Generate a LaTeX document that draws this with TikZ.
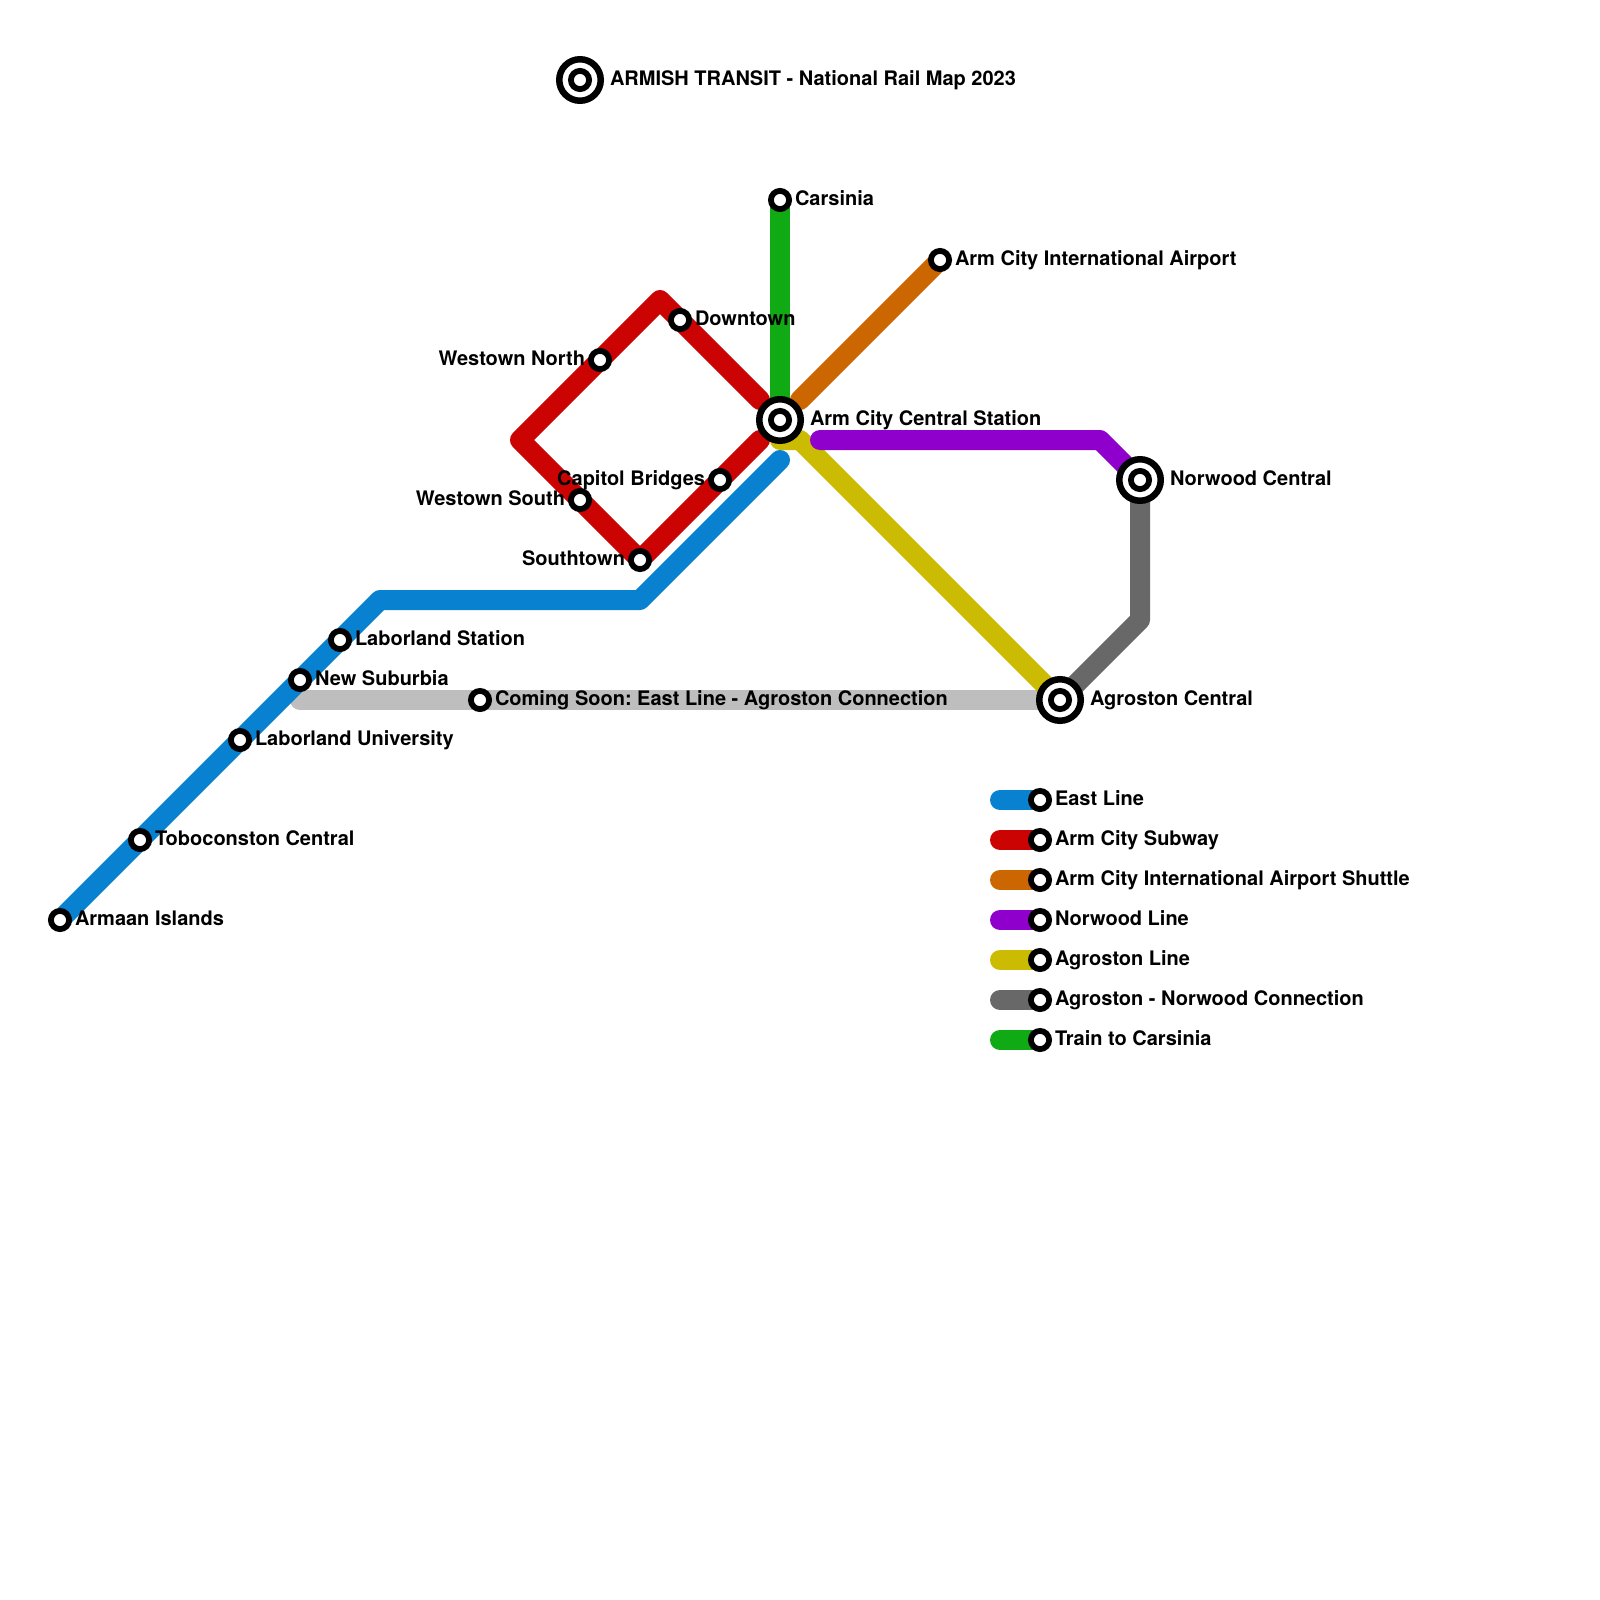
\documentclass[tikz,border=0pt]{standalone}
\usepackage{fontspec}
\setmainfont{TeX Gyre Heros}
\usetikzlibrary{backgrounds}
\definecolor{eastc}{HTML}{0781D0}
\definecolor{redc}{HTML}{CC0303}
\definecolor{orangec}{HTML}{CC6600}
\definecolor{purplec}{HTML}{8F00CC}
\definecolor{yellowc}{HTML}{CCBB03}
\definecolor{grayc}{HTML}{686868}
\definecolor{greenc}{HTML}{0FAA14}
\definecolor{soonc}{HTML}{BEBEBE}
\tikzset{
  x=1pt,y=-1pt,
  stn/.style={circle,draw=black,fill=white,line width=5.8pt,inner sep=0pt,outer sep=0pt,minimum size=18.2pt},
  hub/.style={circle,draw=black,fill=white,line width=6.5pt,inner sep=0pt,outer sep=0pt,minimum size=41.5pt},
  rail/.style={line width=20pt,line cap=round,line join=round},
  lbl/.style={font=\fontsize{20}{22}\selectfont\bfseries,text=black,inner sep=0pt,outer sep=0pt,anchor=base west},
  lbr/.style={lbl,anchor=base east},
}
\begin{document}
\frenchspacing
\begin{tikzpicture}
\useasboundingbox (0,0) rectangle (1600,1600);
% bends and free ends
\coordinate (bA) at (380,600);
\coordinate (bB) at (640,600);
\coordinate (bE) at (780,460);
\coordinate (rS) at (760,440);
\coordinate (rL) at (520,440);
\coordinate (rT) at (660,300);
\coordinate (rE) at (760,400);
\coordinate (oE) at (800,400);
\coordinate (pS) at (820,440);
\coordinate (pB) at (1100,440);
\coordinate (yS) at (780,440);
\coordinate (yB) at (800,440);
\coordinate (gB) at (1140,620);
\coordinate (sS) at (300,700);
% stations
\node[hub] (logo) at (580,80) {};
\node[stn] (logoi) at (580,80) {};
\node[stn] (armaan) at (60,920) {};
\node[stn] (tobo) at (140,840) {};
\node[stn] (launi) at (240,740) {};
\node[stn] (newsub) at (300,680) {};
\node[stn] (lasta) at (340,640) {};
\node[stn] (soon) at (480,700) {};
\node[stn] (south) at (640,560) {};
\node[stn] (wsouth) at (580,500) {};
\node[stn] (capitol) at (720,480) {};
\node[stn] (wnorth) at (600,360) {};
\node[stn] (down) at (680,320) {};
\node[stn] (cars) at (780,200) {};
\node[stn] (airport) at (940,260) {};
\node[hub] (central) at (780,420) {};
\node[stn] (centrali) at (780,420) {};
\node[hub] (norwood) at (1140,480) {};
\node[stn] (norwoodi) at (1140,480) {};
\node[hub] (agro) at (1060,700) {};
\node[stn] (agroi) at (1060,700) {};
% legend stations
\coordinate (l1s) at (1000,800);
\coordinate (l2s) at (1000,840);
\coordinate (l3s) at (1000,880);
\coordinate (l4s) at (1000,920);
\coordinate (l5s) at (1000,960);
\coordinate (l6s) at (1000,1000);
\coordinate (l7s) at (1000,1040);
\node[stn] (l1) at (1040,800) {};
\node[stn] (l2) at (1040,840) {};
\node[stn] (l3) at (1040,880) {};
\node[stn] (l4) at (1040,920) {};
\node[stn] (l5) at (1040,960) {};
\node[stn] (l6) at (1040,1000) {};
\node[stn] (l7) at (1040,1040) {};
\begin{pgfonlayer}{background}
\fill[white] (0,0) rectangle (1600,1600);
\draw[rail,soonc] (sS) -- (agro.center);
\draw[rail,greenc] (cars.center) -- (central.center);
\draw[rail,orangec] (airport.center) -- (oE);
\draw[rail,redc] (rS) -- (south.center) -- (rL) -- (rT) -- (rE);
\draw[rail,eastc] (armaan.center) -- (bA) -- (bB) -- (bE);
\draw[rail,yellowc] (yS) -- (yB) -- (agro.center);
\draw[rail,grayc] (agro.center) -- (gB) -- (norwood.center);
\draw[rail,purplec] (pS) -- (pB) -- (norwood.center);
\draw[rail,eastc] (l1s) -- (l1.center);
\draw[rail,redc] (l2s) -- (l2.center);
\draw[rail,orangec] (l3s) -- (l3.center);
\draw[rail,purplec] (l4s) -- (l4.center);
\draw[rail,yellowc] (l5s) -- (l5.center);
\draw[rail,grayc] (l6s) -- (l6.center);
\draw[rail,greenc] (l7s) -- (l7.center);
\end{pgfonlayer}
% labels
\node[lbl] (tlogo) at (610,85.8) {ARMISH TRANSIT - National Rail Map 2023};
\node[lbl] (tarmaan) at (75,925.8) {Armaan Islands};
\node[lbl] (ttobo) at (155,845.8) {Toboconston Central};
\node[lbl] (tlauni) at (255,745.8) {Laborland University};
\node[lbl] (tnewsub) at (315,685.8) {New Suburbia};
\node[lbl] (tlasta) at (355,645.8) {Laborland Station};
\node[lbl] (tsoon) at (495,705.8) {Coming Soon: East Line - Agroston Connection};
\node[lbr] (tsouth) at (625,565.8) {Southtown};
\node[lbr] (twsouth) at (565,505.8) {Westown South};
\node[lbr] (tcapitol) at (705,485.8) {Capitol Bridges};
\node[lbr] (twnorth) at (585,365.8) {Westown North};
\node[lbl] (tdown) at (695,325.8) {Downtown};
\node[lbl] (tcars) at (795,205.8) {Carsinia};
\node[lbl] (tairport) at (955,265.8) {Arm City International Airport};
\node[lbl] (tcentral) at (810,425.8) {Arm City Central Station};
\node[lbl] (tnorwood) at (1170,485.8) {Norwood Central};
\node[lbl] (tagro) at (1090,705.8) {Agroston Central};
\node[lbl] (tl1) at (1055,805.8) {East Line};
\node[lbl] (tl2) at (1055,845.8) {Arm City Subway};
\node[lbl] (tl3) at (1055,885.8) {Arm City International Airport Shuttle};
\node[lbl] (tl4) at (1055,925.8) {Norwood Line};
\node[lbl] (tl5) at (1055,965.8) {Agroston Line};
\node[lbl] (tl6) at (1055,1005.8) {Agroston - Norwood Connection};
\node[lbl] (tl7) at (1055,1045.8) {Train to Carsinia};
\end{tikzpicture}
\end{document}
